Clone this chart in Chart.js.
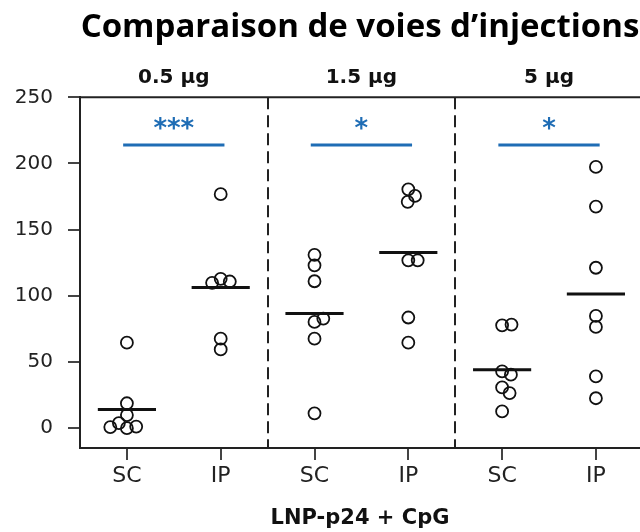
<!DOCTYPE html>
<html><head><meta charset="utf-8">
<script src="https://cdn.jsdelivr.net/npm/chart.js@4"></script>
<style>html,body{margin:0;padding:0;background:#fff}canvas{display:block}</style>
</head><body>
<canvas id="c" width="640" height="532"></canvas>
<script>
// ---------- data ----------
const chartTitle = 'Comparaison de voies d’injections';
const axisTitle = 'LNP-p24 + CpG';
const doses = ['0.5 µg', '1.5 µg', '5 µg'];
const tickLabels = ['SC', 'IP', 'SC', 'IP', 'SC', 'IP'];
const yTicks = [0, 50, 100, 150, 200, 250];
const sc05 = [64.6, 18.8, 9.9, 0, 1.2, 3.8, 0.8];
const ip05 = [176.8, 112.8, 110.8, 109.8, 67.6, 59.5];
const sc15 = [131, 123, 111, 80.3, 82.8, 67.6, 11.2];
const ip15 = [180.5, 175.5, 171, 126.8, 126.8, 83.6, 64.6];
const sc5 = [77.7, 78.3, 42.9, 40.4, 30.8, 26.5, 12.6];
const ip5 = [197.4, 167.4, 121.2, 84.8, 76.5, 39.1, 22.6];
const significance = ['***', '*', '*'];
const sigLevel = 214;

// ---------- build ----------
const groups = [sc05, ip05, sc15, ip15, sc5, ip5];
const BLUE = '#1f6db5';
const MEAN_HALF = 0.31;
const SIG_EXT = 0.04;
const SWARM_D = 9.4;

const mean = a => a.reduce((s, v) => s + v, 0) / a.length;

function meanData() {
  const d = [];
  groups.forEach((g, i) => {
    const m = mean(g);
    d.push({x: i + 1 - MEAN_HALF, y: m}, {x: i + 1 + MEAN_HALF, y: m}, {x: i + 1.5, y: null});
  });
  return d;
}
function sigData() {
  const d = [];
  significance.forEach((s, k) => {
    d.push({x: 2 * k + 1 - SIG_EXT, y: sigLevel}, {x: 2 * k + 2 + SIG_EXT, y: sigLevel}, {x: 2 * k + 2.5, y: null});
  });
  return d;
}
function pointData(offsets) {
  const d = [];
  groups.forEach((g, i) => g.forEach((v, j) => d.push({x: i + 1 + (offsets ? offsets[i][j] : 0), y: v})));
  return d;
}

function swarm(values, yScale, D) {
  const placed = [];
  return values.map(v => {
    const py = yScale.getPixelForValue(v);
    let off = 0;
    for (let k = 0; k < 2000; k++) {
      const c = k === 0 ? 0 : (k % 2 === 1 ? 1 : -1) * Math.ceil(k / 2) * 0.1;
      if (placed.every(p => Math.hypot(c - p.x, py - p.y) >= D - 1e-9)) { off = c; break; }
    }
    placed.push({x: off, y: py});
    return off;
  });
}

const decor = {
  id: 'decor',
  beforeDatasetsDraw(chart) {
    const {ctx, chartArea: a, scales: {x}} = chart;
    ctx.save();
    ctx.strokeStyle = '#222';
    ctx.lineWidth = 2;
    ctx.beginPath();
    ctx.moveTo(a.left - 1, a.top);
    ctx.lineTo(a.right, a.top);
    ctx.stroke();
    ctx.setLineDash([12, 6]);
    [2.5, 4.5].forEach(v => {
      const px = Math.round(x.getPixelForValue(v));
      ctx.beginPath();
      ctx.moveTo(px, a.top);
      ctx.lineTo(px, a.bottom);
      ctx.stroke();
    });
    ctx.restore();
  },
  afterDatasetsDraw(chart) {
    const {ctx, chartArea: a, scales: {x, y}} = chart;
    ctx.save();
    ctx.textAlign = 'center';
    ctx.textBaseline = 'alphabetic';
    ctx.fillStyle = '#111';
    ctx.font = 'bold 20px "DejaVu Sans"';
    doses.forEach((d, k) => ctx.fillText(d, x.getPixelForValue(2 * k + 1.5), a.top - 14));
    ctx.fillStyle = BLUE;
    ctx.font = 'bold 26px "DejaVu Sans"';
    const by = y.getPixelForValue(sigLevel);
    significance.forEach((s, k) => ctx.fillText(s, x.getPixelForValue(2 * k + 1.5), by - 8));
    ctx.restore();
  }
};

const chart = new Chart(document.getElementById('c'), {
  type: 'scatter',
  data: {
    datasets: [
      {data: pointData(null), pointRadius: 6, pointBorderWidth: 1.8, borderColor: '#111',
       pointBackgroundColor: 'rgba(0,0,0,0)', backgroundColor: 'rgba(0,0,0,0)', showLine: false, order: 1},
      {data: meanData(), showLine: true, spanGaps: false, pointRadius: 0, borderColor: '#111', borderWidth: 3, order: 0},
      {data: sigData(), showLine: true, spanGaps: false, pointRadius: 0, borderColor: BLUE, borderWidth: 3, order: 0}
    ]
  },
  options: {
    responsive: false,
    animation: false,
    events: [],
    layout: {autoPadding: false, padding: {left: 0, right: 0, top: 0, bottom: 0}},
    plugins: {
      legend: {display: false},
      tooltip: {enabled: false},
      title: {display: true, fullSize: false, text: chartTitle, color: '#000',
        font: {family: 'Open Sans', size: 33, weight: 'bold'}, padding: {top: 8, bottom: 49.7}}
    },
    scales: {
      x: {
        type: 'linear', min: 0.5, max: 6.47,
        afterBuildTicks: s => { s.ticks = tickLabels.map((_, i) => ({value: i + 1})); },
        afterFit: s => { s.height = 84; s.paddingLeft = 0; s.paddingRight = 0; },
        ticks: {callback: v => tickLabels[Math.round(v) - 1], font: {family: 'DejaVu Sans', size: 22},
          color: '#222', padding: 3.5, autoSkip: false, maxRotation: 0},
        grid: {display: true, drawOnChartArea: false, drawTicks: true, tickLength: 12, color: '#444', lineWidth: 2},
        border: {display: true, color: '#222', width: 2},
        title: {display: true, text: axisTitle, color: '#111',
          font: {family: 'DejaVu Sans', size: 21, weight: 'bold'}, padding: {top: 0, bottom: 1}}
      },
      y: {
        type: 'linear', min: -15, max: 250,
        afterBuildTicks: s => { s.ticks = yTicks.map(v => ({value: v})); },
        afterFit: s => { s.width = 80; },
        ticks: {font: {family: 'DejaVu Sans', size: 20}, color: '#222', padding: 15},
        grid: {display: true, drawOnChartArea: false, drawTicks: true, tickLength: 12, color: '#444', lineWidth: 2},
        border: {display: true, color: '#222', width: 2}
      }
    }
  },
  plugins: [decor]
});

// beeswarm spread computed in pixel space from the library's scales
const xs = chart.scales.x, ys = chart.scales.y;
const pxPerUnit = xs.getPixelForValue(2) - xs.getPixelForValue(1);
const offsets = groups.map(g => swarm(g, ys, SWARM_D).map(o => o / pxPerUnit));
chart.data.datasets[0].data = pointData(offsets);
chart.update('none');
</script>
</body></html>
